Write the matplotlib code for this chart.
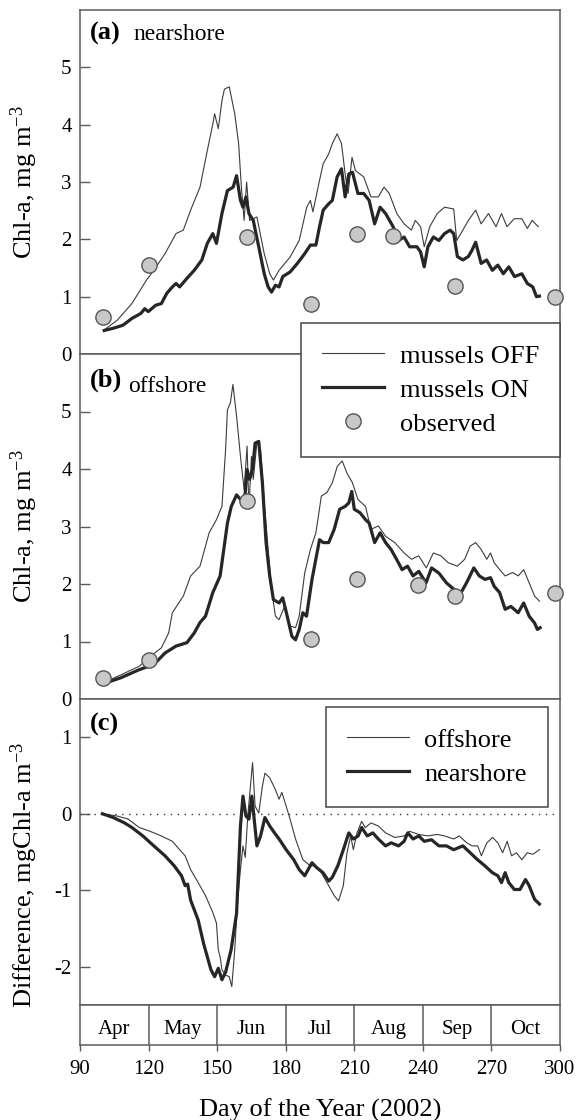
import numpy as np
import matplotlib
matplotlib.use("Agg")
import matplotlib.pyplot as plt
from matplotlib.lines import Line2D

plt.rcParams['font.family'] = ['Liberation Serif', 'DejaVu Serif']
plt.rcParams['mathtext.default'] = 'regular'
plt.rcParams['axes.unicode_minus'] = False

# ---- (a) nearshore, model runs ----
a_off_day = [100.6, 106.3, 112.7, 119.1, 122.3, 127.2, 132.0, 135.2, 138.4, 142.5, 145.7, 148.1, 148.9,
             150.5, 152.1, 153.2, 155.3, 157.7, 159.4, 160.6, 161.8, 162.9, 164.2, 167.4, 170.6, 173.0,
             174.6, 177.1, 181.9, 185.9, 189.2, 190.8, 191.9, 194.8, 196.4, 198.8, 200.4, 202.5, 204.4,
             206.0, 207.3, 209.0, 210.5, 214.1, 217.3, 220.5, 223.0, 225.3, 228.6, 231.8, 235.0, 236.7,
             239.0, 240.6, 243.0, 246.3, 249.5, 253.5, 254.8, 257.5, 259.9, 263.1, 265.5, 268.7, 272.0,
             274.4, 276.8, 280.0, 283.3, 285.7, 287.8, 290.5]
a_off_val = [0.42, 0.59, 0.88, 1.29, 1.46, 1.75, 2.10, 2.16, 2.51, 2.91, 3.55, 4.01, 4.19,
             3.93, 4.42, 4.62, 4.66, 4.19, 3.67, 2.91, 2.33, 3.00, 2.33, 2.39, 1.75, 1.40,
             1.29, 1.46, 1.69, 1.98, 2.56, 2.68, 2.48, 3.03, 3.32, 3.49, 3.67, 3.84, 3.67,
             3.14, 2.80, 3.43, 3.20, 3.09, 2.74, 2.74, 2.91, 2.80, 2.45, 2.27, 2.16, 2.33,
             2.22, 1.87, 2.22, 2.45, 2.56, 2.53, 1.98, 2.16, 2.33, 2.51, 2.27, 2.45, 2.22,
             2.45, 2.22, 2.36, 2.36, 2.19, 2.33, 2.22]

a_on_day = [100.6, 104.6, 108.7, 112.7, 116.7, 118.3, 119.9, 123.1, 125.6, 128.0, 130.4, 132.0, 133.6,
            136.8, 140.0, 143.3, 145.7, 148.1, 149.7, 152.1, 154.5, 157.0, 158.5, 160.2, 161.3, 162.6,
            163.9, 165.8, 168.2, 170.6, 172.3, 173.8, 175.5, 177.1, 178.7, 181.9, 185.1, 188.3, 190.8,
            193.2, 194.8, 196.4, 198.8, 200.4, 202.5, 204.4, 206.0, 207.6, 209.2, 211.6, 214.1, 216.5,
            218.9, 221.3, 223.7, 227.0, 229.4, 231.8, 234.2, 237.4, 239.0, 240.6, 242.2, 244.6, 247.0,
            249.5, 251.9, 253.5, 255.1, 257.5, 259.9, 261.5, 263.1, 265.5, 267.9, 270.4, 272.8, 275.2,
            277.6, 280.1, 283.3, 285.7, 288.1, 289.7, 291.0]
a_on_val = [0.41, 0.45, 0.50, 0.62, 0.71, 0.79, 0.74, 0.85, 0.88, 1.06, 1.17, 1.23, 1.17,
            1.32, 1.46, 1.64, 1.93, 2.10, 1.93, 2.45, 2.85, 2.91, 3.11, 2.68, 2.56, 2.74,
            2.45, 2.33, 1.87, 1.40, 1.17, 1.08, 1.20, 1.17, 1.35, 1.43, 1.58, 1.75, 1.90,
            1.90, 2.22, 2.51, 2.62, 2.68, 3.09, 3.23, 2.74, 3.14, 3.17, 2.80, 2.80, 2.68,
            2.27, 2.56, 2.45, 2.22, 1.98, 2.04, 1.87, 1.87, 1.78, 1.52, 1.87, 2.04, 1.98,
            2.10, 2.16, 2.10, 1.70, 1.64, 1.70, 1.81, 1.95, 1.58, 1.64, 1.46, 1.55, 1.40,
            1.52, 1.35, 1.40, 1.23, 1.17, 1.00, 1.01]

a_obs_day = [100, 120, 163, 191, 211, 227, 254, 298]
a_obs_val = [0.65, 1.55, 2.04, 0.88, 2.10, 2.06, 1.18, 1.00]

# ---- (b) offshore, model runs ----
b_off_day = [99.8, 107.9, 115.9, 120.7, 125.6, 128.8, 130.4, 135.2, 138.4, 142.5, 146.5, 149.7, 152.1,
             153.7, 154.5, 155.8, 156.9, 158.5, 160.2, 161.8, 163.1, 163.9, 165.0, 165.8, 167.4, 169.0,
             170.6, 172.2, 173.8, 175.5, 177.1, 179.5, 181.9, 184.3, 185.9, 188.3, 190.8, 193.2, 195.6,
             198.0, 200.4, 202.6, 204.7, 206.8, 209.2, 211.6, 214.9, 217.3, 220.5, 223.7, 227.7, 231.8,
             235.0, 238.2, 241.5, 244.6, 247.9, 251.1, 255.1, 258.3, 260.7, 263.1, 265.5, 268.0, 269.6,
             271.2, 273.6, 276.0, 279.3, 281.7, 284.1, 286.5, 288.9, 291.0]
b_off_val = [0.28, 0.42, 0.57, 0.74, 0.89, 1.15, 1.50, 1.79, 2.14, 2.31, 2.89, 3.12, 3.35,
             4.34, 5.03, 5.15, 5.47, 4.92, 4.22, 3.64, 4.40, 3.30, 4.22, 3.82, 4.46, 4.34,
             3.41, 2.66, 1.91, 1.44, 1.38, 1.61, 1.27, 1.24, 1.44, 2.19, 2.60, 2.89, 3.53,
             3.59, 3.76, 4.05, 4.14, 3.93, 3.76, 3.47, 3.35, 2.95, 3.01, 2.83, 2.72, 2.54,
             2.43, 2.49, 2.28, 2.54, 2.49, 2.37, 2.31, 2.43, 2.66, 2.72, 2.60, 2.43, 2.54,
             2.37, 2.25, 2.14, 2.20, 2.14, 2.25, 2.02, 1.79, 1.70]

b_on_day = [99.8, 107.9, 115.9, 122.3, 127.2, 132.0, 136.8, 140.0, 142.5, 144.9, 148.1, 151.3, 154.5,
            156.2, 158.5, 160.2, 161.8, 163.1, 164.2, 165.5, 166.6, 168.2, 169.8, 171.4, 173.0, 174.6,
            177.1, 178.7, 180.3, 182.7, 184.3, 185.9, 187.5, 189.1, 191.5, 194.8, 196.4, 198.8, 201.2,
            203.6, 206.0, 207.6, 208.9, 210.0, 212.5, 214.9, 216.5, 218.9, 221.3, 223.7, 226.1, 228.5,
            230.9, 233.3, 235.7, 238.2, 241.4, 243.8, 247.0, 250.3, 253.5, 256.7, 259.1, 262.3, 264.7,
            267.2, 269.6, 271.2, 273.6, 276.0, 278.5, 281.7, 284.1, 286.5, 288.9, 290.1, 291.3]
b_on_val = [0.26, 0.37, 0.51, 0.60, 0.80, 0.92, 0.98, 1.15, 1.33, 1.44, 1.85, 2.14, 3.06,
            3.35, 3.55, 3.47, 3.35, 3.99, 3.82, 3.99, 4.45, 4.48, 3.76, 2.72, 2.14, 1.73,
            1.67, 1.76, 1.50, 1.09, 1.03, 1.21, 1.50, 1.44, 2.08, 2.77, 2.72, 2.72, 2.95,
            3.30, 3.35, 3.41, 3.61, 3.30, 3.24, 3.12, 3.06, 2.72, 2.89, 2.72, 2.60, 2.43,
            2.25, 2.31, 2.14, 2.22, 2.02, 2.28, 2.19, 2.02, 1.91, 1.85, 2.02, 2.28, 2.14,
            2.08, 2.11, 1.96, 1.85, 1.56, 1.61, 1.50, 1.67, 1.44, 1.32, 1.21, 1.24]

b_obs_day = [100, 120, 163, 191, 211, 238, 254, 298]
b_obs_val = [0.37, 0.67, 3.44, 1.05, 2.09, 1.99, 1.79, 1.85]

# ---- (c) difference ON - OFF ----
c_off_day = [99.8, 106.3, 111.1, 115.9, 120.7, 125.6, 130.4, 133.6, 136.0, 138.4, 141.7, 144.9, 148.1,
             149.7, 150.5, 151.3, 152.1, 153.7, 155.3, 156.4, 157.7, 159.0, 160.2, 161.3, 162.3, 163.4,
             165.5, 166.6, 168.2, 169.8, 170.9, 173.0, 175.4, 177.1, 178.3, 180.2, 181.9, 184.3, 187.5,
             190.7, 193.1, 195.6, 198.8, 201.2, 203.1, 205.2, 206.8, 208.4, 209.6, 211.2, 213.2, 214.8,
             217.3, 220.5, 223.7, 227.7, 231.8, 234.2, 238.2, 242.2, 246.3, 249.5, 253.5, 255.9, 259.2,
             261.6, 264.0, 265.6, 268.0, 270.5, 272.8, 274.9, 276.9, 278.8, 280.9, 283.3, 285.7, 288.1,
             291.0]
c_off_val = [0.0, -0.03, -0.07, -0.18, -0.23, -0.29, -0.36, -0.47, -0.55, -0.73, -0.90, -1.07, -1.29,
             -1.43, -1.78, -1.87, -2.04, -2.11, -2.13, -2.26, -1.78, -1.13, -0.73, -0.42, -0.57, -0.03,
             0.67, 0.10, 0.01, 0.36, 0.53, 0.47, 0.32, 0.19, 0.28, 0.10, -0.07, -0.33, -0.60,
             -0.68, -0.68, -0.77, -0.94, -1.07, -1.14, -0.94, -0.51, -0.29, -0.47, -0.25, -0.10, -0.18,
             -0.12, -0.16, -0.25, -0.31, -0.29, -0.23, -0.27, -0.29, -0.27, -0.29, -0.33, -0.29, -0.38,
             -0.42, -0.42, -0.55, -0.38, -0.31, -0.38, -0.51, -0.36, -0.55, -0.51, -0.60, -0.51, -0.53,
             -0.47]

c_near_day = [99.8, 104.6, 109.5, 112.7, 117.5, 122.3, 127.2, 131.2, 134.4, 136.0, 137.1, 138.4, 141.7,
              144.1, 147.3, 148.9, 150.5, 152.1, 153.7, 156.1, 158.5, 160.2, 161.3, 162.6, 163.9, 165.2,
              166.2, 167.4, 169.0, 170.9, 173.0, 175.1, 177.1, 180.2, 183.5, 185.9, 188.3, 191.5, 193.4,
              196.3, 198.8, 200.4, 202.8, 205.2, 207.6, 209.6, 211.7, 213.2, 215.7, 218.1, 220.5, 223.7,
              226.1, 229.4, 231.8, 233.4, 235.7, 238.2, 240.6, 243.8, 247.0, 250.3, 253.5, 257.5, 260.7,
              263.9, 267.1, 270.4, 272.8, 274.4, 276.0, 277.6, 280.0, 282.5, 284.9, 286.5, 288.9, 291.0]
c_near_val = [0.0, -0.05, -0.12, -0.18, -0.29, -0.42, -0.55, -0.68, -0.81, -0.94, -0.92, -1.13, -1.39,
              -1.70, -2.04, -2.13, -2.02, -2.17, -2.07, -1.78, -1.30, -0.16, 0.23, -0.03, -0.07, 0.23,
              -0.07, -0.42, -0.29, -0.05, -0.16, -0.25, -0.33, -0.47, -0.60, -0.73, -0.81, -0.64, -0.70,
              -0.77, -0.88, -0.83, -0.68, -0.47, -0.25, -0.33, -0.29, -0.18, -0.29, -0.25, -0.33, -0.42,
              -0.38, -0.42, -0.36, -0.25, -0.33, -0.29, -0.36, -0.34, -0.42, -0.42, -0.47, -0.42, -0.51,
              -0.60, -0.68, -0.77, -0.81, -0.90, -0.77, -0.90, -0.99, -0.99, -0.86, -0.94, -1.12, -1.18]

months = ['Apr', 'May', 'Jun', 'Jul', 'Aug', 'Sep', 'Oct']
month_edges = [90, 120, 150, 180, 210, 240, 270, 300]
day_ticks = [90, 120, 150, 180, 210, 240, 270, 300]

THIN_C = '#3c3c3c'
THICK_C = '#262626'
AX_C = '#5a5a5a'
W, H = 576, 1120


def box(top, bottom, left=80, right=560):
    return [left / W, 1 - bottom / H, (right - left) / W, (bottom - top) / H]


fig = plt.figure(figsize=(W / 100, H / 100), dpi=100)
ax_a = fig.add_axes(box(10, 354))
ax_b = fig.add_axes(box(354, 699))
ax_c = fig.add_axes(box(699, 1005))
ax_m = fig.add_axes(box(1005, 1045))

for ax in (ax_a, ax_b, ax_c, ax_m):
    ax.set_xlim(90, 300)
    for sp in ax.spines.values():
        sp.set_color(AX_C)
        sp.set_linewidth(1.1)
    ax.tick_params(axis='y', direction='in', length=7, width=1, color=AX_C,
                   labelsize=15, pad=6)
    ax.tick_params(axis='x', bottom=False, labelbottom=False)

obs_style = dict(ls='none', marker='o', ms=11, mfc='#c8c8c8', mec='#555555',
                 mew=1, clip_on=False, zorder=4)

# (a) nearshore
ax_a.plot(a_off_day, a_off_val, color=THIN_C, lw=0.8)
ax_a.plot(a_on_day, a_on_val, color=THICK_C, lw=2.3)
ax_a.plot(a_obs_day, a_obs_val, **obs_style)
ax_a.set_ylim(0, 6)
ax_a.set_yticks([0, 1, 2, 3, 4, 5])
ax_a.text(10 / 480, 1 - 30 / 344, '(a)', transform=ax_a.transAxes,
          fontsize=19, fontweight='bold', va='baseline')
ax_a.text(53 / 480, 1 - 30 / 344, 'nearshore', transform=ax_a.transAxes,
          fontsize=17, va='baseline')

# (b) offshore
ax_b.plot(b_off_day, b_off_val, color=THIN_C, lw=0.8)
ax_b.plot(b_on_day, b_on_val, color=THICK_C, lw=2.3)
ax_b.plot(b_obs_day, b_obs_val, **obs_style)
ax_b.set_ylim(0, 6)
ax_b.set_yticks([0, 1, 2, 3, 4, 5])
ax_b.text(10 / 480, 1 - 33 / 345, '(b)', transform=ax_b.transAxes,
          fontsize=19, fontweight='bold', va='baseline')
ax_b.text(48 / 480, 1 - 38 / 345, 'offshore', transform=ax_b.transAxes,
          fontsize=17, va='baseline')

for ax in (ax_a, ax_b):
    ax.set_ylabel('Chl-a, mg m$^{-3}$', fontsize=19)
    ax.yaxis.set_label_coords(-40 / 480, 0.5)

# (c) difference
ax_c.axhline(0, color='#333333', lw=1, ls=(0, (1, 4)))
ax_c.plot(c_off_day, c_off_val, color=THIN_C, lw=0.8)
ax_c.plot(c_near_day, c_near_val, color=THICK_C, lw=2.3)
ax_c.set_ylim(-2.5, 1.5)
ax_c.set_yticks([-2, -1, 0, 1])
ax_c.text(10 / 480, 1 - 32 / 306, '(c)', transform=ax_c.transAxes,
          fontsize=19, fontweight='bold', va='baseline')
ax_c.set_ylabel('Difference, mgChl-a m$^{-3}$', fontsize=19)
ax_c.yaxis.set_label_coords(-40 / 480, 0.425)

# month strip with day-of-year axis underneath
ax_m.set_ylim(0, 1)
ax_m.set_yticks([])
for e in month_edges[1:-1]:
    ax_m.axvline(e, color=AX_C, lw=1.1)
for i, name in enumerate(months):
    ax_m.text((month_edges[i] + month_edges[i + 1]) / 2, 0.45, name,
              ha='center', va='center_baseline', fontsize=15)
ax_m.set_xticks(day_ticks)
ax_m.tick_params(axis='x', bottom=True, labelbottom=True, direction='out',
                 length=4, width=1, color=AX_C, labelsize=15, pad=7)
ax_m.set_xlabel('Day of the Year (2002)', fontsize=19, labelpad=14)

# legends
h_off = Line2D([], [], color=THIN_C, lw=0.8)
h_on = Line2D([], [], color=THICK_C, lw=2.3)
h_obs = Line2D([], [], **{k: v for k, v in obs_style.items() if k not in ('clip_on', 'zorder')})

leg_style = dict(fontsize=19, frameon=True, fancybox=False, framealpha=1,
                 edgecolor='#444444', handlelength=2.35, handletextpad=0.57,
                 labelspacing=0.4, borderpad=0.8, borderaxespad=0)

leg = fig.legend([h_off, h_on, h_obs], ['mussels OFF', 'mussels ON', 'observed'],
                 loc='upper right', bbox_to_anchor=(560 / W, 1 - 323 / H),
                 bbox_transform=fig.transFigure, **leg_style)
leg.get_frame().set_linewidth(1.1)
leg.set_zorder(10)

leg_c = ax_c.legend([h_off, h_on], ['offshore', 'nearshore'],
                    loc='upper right', bbox_to_anchor=(548 / W, 1 - 707 / H),
                    bbox_transform=fig.transFigure, **leg_style)
leg_c.get_frame().set_linewidth(1.1)

fig.savefig('out.png', dpi=100)
